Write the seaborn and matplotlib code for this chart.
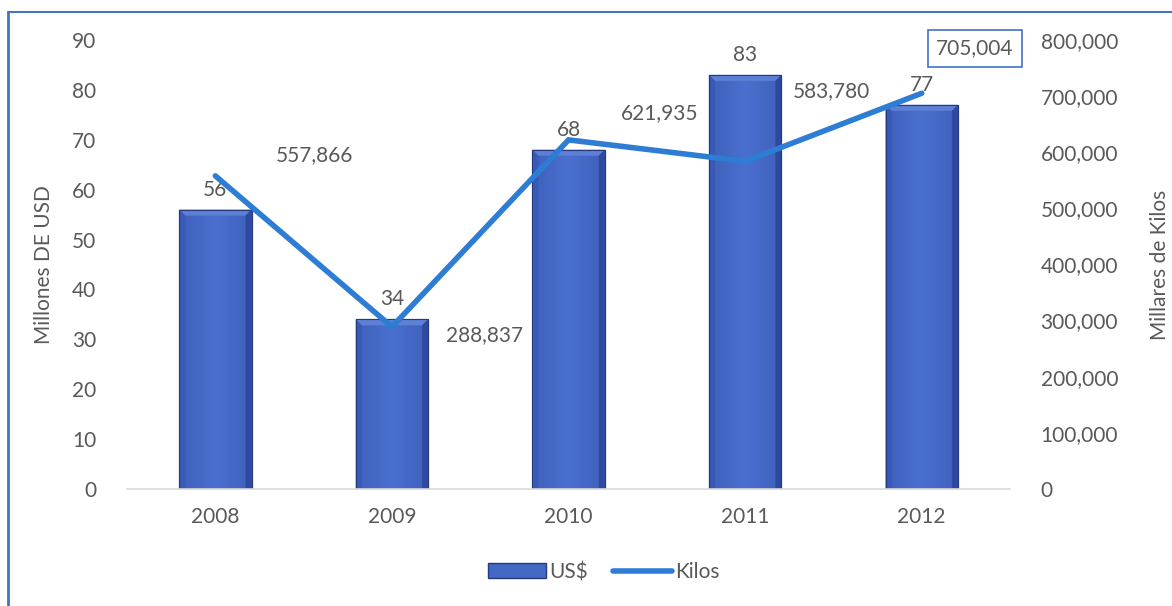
import numpy as np
import matplotlib
matplotlib.use("Agg")
import matplotlib.pyplot as plt
from matplotlib.patches import Polygon, Rectangle
from matplotlib.lines import Line2D
from matplotlib.ticker import FuncFormatter, MultipleLocator
from matplotlib.colors import LinearSegmentedColormap
import seaborn as sns

years = ["2008", "2009", "2010", "2011", "2012"]
usd_millions = [56, 34, 68, 83, 77]
kilos_thousands = [557866, 288837, 621935, 583780, 705004]
kilos_labels = ["557,866", "288,837", "621,935", "583,780", "705,004"]

sns.set_theme(style="white")
plt.rcParams["font.family"] = ["Lato", "DejaVu Sans"]
TEXT = "#595959"
FS = 15

W, H = 1172, 606
fig = plt.figure(figsize=(W / 100, H / 100), dpi=100)
ax = fig.add_axes([0.1084, 0.1931, 0.7534, 0.741])

BAR_MID = "#4468C6"
BAR_EDGE = "#24397E"
LINE_COL = "#2E7DD4"

sns.barplot(x=years, y=usd_millions, ax=ax, color=BAR_MID, width=0.41,
            saturation=1, edgecolor=BAR_EDGE, linewidth=0.8)
ax.set_xlim(-0.5, 4.5)
ax.set_ylim(0, 90)

# bevelled shading on each bar
grad = np.linspace(0, 1, 64)
prof = 1 - 0.35 * np.abs(grad - 0.5) * 2
cmap = LinearSegmentedColormap.from_list("bar", ["#2A4296", "#4A70CF"])
px_x = 1.0 / 176.6
px_y = 90 / 449.0
for p in list(ax.patches):
    x0, y0 = p.get_x(), p.get_y()
    w, h = p.get_width(), p.get_height()
    im = ax.imshow(prof[None, :], extent=(x0, x0 + w, y0, y0 + h), cmap=cmap,
                   vmin=0, vmax=1, aspect="auto", zorder=p.get_zorder() + 0.1)
    im.set_clip_path(p)
    bx, by = 6 * px_x, 6 * px_y
    top = Polygon([(x0, y0 + h), (x0 + w, y0 + h), (x0 + w - bx, y0 + h - by),
                   (x0 + bx, y0 + h - by)], closed=True, facecolor="#5D80D6",
                  edgecolor="none", zorder=p.get_zorder() + 0.2)
    left = Polygon([(x0, y0), (x0, y0 + h), (x0 + bx, y0 + h - by), (x0 + bx, y0)],
                   closed=True, facecolor="#3859B6", edgecolor="none",
                   zorder=p.get_zorder() + 0.2)
    right = Polygon([(x0 + w, y0), (x0 + w, y0 + h), (x0 + w - bx, y0 + h - by),
                     (x0 + w - bx, y0)], closed=True, facecolor="#2E499F",
                    edgecolor="none", zorder=p.get_zorder() + 0.2)
    for poly in (top, left, right):
        ax.add_patch(poly)
    ax.add_patch(Rectangle((x0, y0), w, h, facecolor="none", edgecolor=BAR_EDGE,
                           linewidth=0.8, zorder=p.get_zorder() + 0.3))

for i, v in enumerate(usd_millions):
    ax.annotate(f"{v}", (i, v), xytext=(0, 10), textcoords="offset pixels",
                ha="center", va="bottom", fontsize=FS, color=TEXT, zorder=5)

ax2 = ax.twinx()
sns.lineplot(x=np.arange(len(years)), y=kilos_thousands, ax=ax2, color=LINE_COL,
             linewidth=4, solid_capstyle="round", solid_joinstyle="miter", zorder=4)
ax2.set_ylim(0, 800000)
ax2.set_xlim(-0.5, 4.5)

offsets = [(99, 21), (93, -8), (91, 27), (86, 70), (53, 45)]
for i, (v, lab) in enumerate(zip(kilos_thousands, kilos_labels)):
    kw = {}
    if i == len(kilos_thousands) - 1:
        kw["bbox"] = dict(boxstyle="square,pad=0.4", facecolor="white",
                          edgecolor="#4472C4", linewidth=1.2)
    ax2.annotate(lab, (i, v), xytext=offsets[i], textcoords="offset pixels",
                 ha="center", va="center", fontsize=FS, color=TEXT, zorder=6, **kw)

ax.yaxis.set_major_locator(MultipleLocator(10))
ax2.yaxis.set_major_locator(MultipleLocator(100000))
ax2.yaxis.set_major_formatter(FuncFormatter(lambda v, _: f"{int(v):,}"))

for a in (ax, ax2):
    for s in a.spines.values():
        s.set_visible(False)
    a.tick_params(length=0, labelsize=FS, labelcolor=TEXT)
    a.grid(False)
ax.spines["bottom"].set_visible(True)
ax.spines["bottom"].set_color("#D9D9D9")
ax.spines["bottom"].set_linewidth(1.2)
ax.tick_params(axis="x", pad=13)
ax.tick_params(axis="y", pad=22)
ax2.tick_params(axis="y", pad=22)
ax.set_xlabel("")
ax.set_ylabel("")
ax2.set_ylabel("")

# axis titles placed at fixed positions
fig.text(44 / W, 1 - 265 / H, "Millones DE USD", rotation=90, ha="center",
         va="center", fontsize=FS, color=TEXT)
fig.text(1160 / W, 1 - 265 / H, "Millares de Kilos", rotation=90, ha="center",
         va="center", fontsize=FS, color=TEXT)

handles = [Rectangle((0, 0), 1, 1, facecolor=BAR_MID, edgecolor=BAR_EDGE),
           Line2D([0], [0], color=LINE_COL, linewidth=4, solid_capstyle="round")]
fig.legend(handles, ["US$", "Kilos"], loc="center", bbox_to_anchor=(0.515, 0.056),
           ncol=2, frameon=False, fontsize=FS, labelcolor=TEXT,
           handlelength=2.8, handletextpad=0.15, columnspacing=1.2)

# frame lines along the top and left edges
fig.add_artist(Line2D([8 / W, 1], [1 - 12 / H, 1 - 12 / H],
                      color="#4472C4", linewidth=1.5, transform=fig.transFigure))
fig.add_artist(Line2D([8 / W, 8 / W], [0, 1 - 12 / H],
                      color="#4472C4", linewidth=2, transform=fig.transFigure))

fig.savefig("out.png", dpi=100)
